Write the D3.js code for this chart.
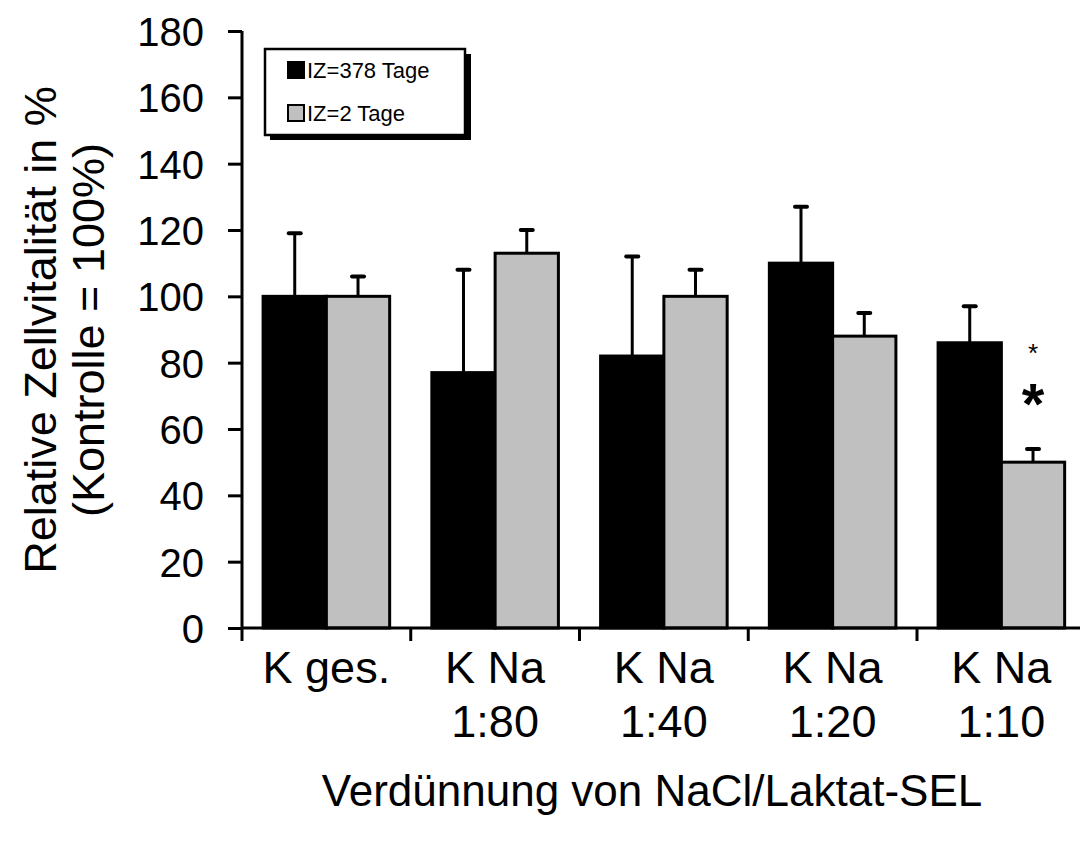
<!DOCTYPE html>
<html>
<head>
<meta charset="utf-8">
<script src="https://cdn.jsdelivr.net/npm/d3@7"></script>
<style>
  html, body { margin: 0; padding: 0; background: #fff; }
  svg { display: block; font-family: Arial, "Liberation Sans", sans-serif; }
</style>
</head>
<body>
<svg id="chart" width="1080" height="845"></svg>
<script>
// Categories (two-line labels) and series values
const categories = ["K ges.", "K Na 1:80", "K Na 1:40", "K Na 1:20", "K Na 1:10"];
const categoryLines = [["K ges."], ["K Na", "1:80"], ["K Na", "1:40"], ["K Na", "1:20"], ["K Na", "1:10"]];
const seriesNames = ["IZ=378 Tage", "IZ=2 Tage"];
const seriesColors = ["#000000", "#c0c0c0"];
const valuesLong = [100, 77, 82, 110, 86];
const errorsLong = [19, 31, 30, 17, 11];
const valuesShort = [100, 113, 100, 88, 50];
const errorsShort = [6, 7, 8, 7, 4];
const yTicks = [0, 20, 40, 60, 80, 100, 120, 140, 160, 180];
const yTitleLines = ["Relative Zellvitalität in %", "(Kontrolle = 100%)"];
const xTitle = "Verdünnung von NaCl/Laktat-SEL";

const svg = d3.select("#chart");
const x0 = 242, y0 = 628, step = 168.75;

const x = d3.scaleBand()
  .domain(categories)
  .range([x0, x0 + step * categories.length])
  .paddingInner(0.25)
  .paddingOuter(0.125);
const xs = d3.scaleBand().domain([0, 1]).range([0, x.bandwidth()]);
const y = d3.scaleLinear().domain([0, 180]).range([y0, 31]);

const rows = categories.map((c, i) => [
  { cat: c, s: 0, v: valuesLong[i], e: errorsLong[i] },
  { cat: c, s: 1, v: valuesShort[i], e: errorsShort[i] }
]).flat();

// error bars (upper whisker only), drawn behind bars
const eb = svg.append("g");
rows.forEach(d => {
  const cx = x(d.cat) + xs(d.s) + xs.bandwidth() / 2;
  eb.append("line").attr("x1", cx).attr("x2", cx)
    .attr("y1", y(d.v)).attr("y2", y(d.v + d.e))
    .attr("stroke", "#000").attr("stroke-width", 3);
  eb.append("line").attr("x1", cx - 6).attr("x2", cx + 6)
    .attr("y1", y(d.v + d.e)).attr("y2", y(d.v + d.e))
    .attr("stroke", "#000").attr("stroke-width", 4).attr("stroke-linecap", "round");
});

// bars
svg.append("g").selectAll("rect").data(rows).join("rect")
  .attr("x", d => x(d.cat) + xs(d.s))
  .attr("y", d => y(d.v))
  .attr("width", xs.bandwidth())
  .attr("height", d => y(0) - y(d.v))
  .attr("fill", d => seriesColors[d.s])
  .attr("stroke", "#000").attr("stroke-width", 3);

// y axis
const yAxis = svg.append("g").attr("transform", `translate(${x0},0)`)
  .call(d3.axisLeft(y).tickValues(yTicks).tickSize(14).tickPadding(24));
yAxis.select(".domain").attr("stroke-width", 3).attr("d", `M0,${y(180)}V${y(0)}`);
yAxis.selectAll(".tick line").attr("stroke-width", 3);
yAxis.selectAll(".tick text").attr("font-size", 40).attr("fill", "#000")
  .attr("dy", "0.36em")
  .attr("font-family", "Arial, 'Liberation Sans', sans-serif");

// x axis with ticks at band boundaries
const xg = svg.append("g");
xg.append("line").attr("x1", x0).attr("x2", x0 + step * categories.length)
  .attr("y1", y0).attr("y2", y0).attr("stroke", "#000").attr("stroke-width", 3);
d3.range(categories.length).forEach(i => {
  const tx = x0 + step * i;
  xg.append("line").attr("x1", tx).attr("x2", tx).attr("y1", y0).attr("y2", y0 + 13)
    .attr("stroke", "#000").attr("stroke-width", 3);
});
categories.forEach((c, i) => {
  const cx = x(c) + x.bandwidth() / 2;
  const t = xg.append("text").attr("x", cx).attr("y", 683)
    .attr("text-anchor", "middle").attr("font-size", 45);
  categoryLines[i].forEach((ln, k) => {
    t.append("tspan").attr("x", cx).attr("dy", k === 0 ? 0 : 54).text(ln);
  });
});

// axis titles
svg.append("text").attr("x", 652).attr("y", 806).attr("text-anchor", "middle")
  .attr("font-size", 44).text(xTitle);
const yt = svg.append("text").attr("transform", "translate(56,330) rotate(-90)")
  .attr("text-anchor", "middle").attr("font-size", 45);
yTitleLines.forEach((ln, k) => yt.append("tspan").attr("x", 0).attr("dy", k === 0 ? 0 : 48).text(ln));

// significance markers on the last group
const lastCx = x(categories[4]) + xs(1) + xs.bandwidth() / 2;
svg.append("text").attr("x", lastCx).attr("y", 362).attr("text-anchor", "middle")
  .attr("font-size", 26).text("*");
svg.append("text").attr("x", lastCx).attr("y", 424).attr("text-anchor", "middle")
  .attr("font-size", 58).attr("font-weight", "bold").text("*");

// legend box with drop shadow
const lg = svg.append("g");
lg.append("rect").attr("x", 270).attr("y", 54).attr("width", 201).attr("height", 86).attr("fill", "#000");
lg.append("rect").attr("x", 265).attr("y", 49).attr("width", 200).attr("height", 86)
  .attr("fill", "#fff").attr("stroke", "#000").attr("stroke-width", 2.5);
seriesNames.forEach((n, i) => {
  const ly = 62 + i * 43;
  lg.append("rect").attr("x", 288).attr("y", ly).attr("width", 16).attr("height", 16)
    .attr("fill", seriesColors[i]).attr("stroke", "#000").attr("stroke-width", 2);
  lg.append("text").attr("x", 307).attr("y", ly + 16).attr("font-size", 22).text(n);
});
</script>
</body>
</html>
